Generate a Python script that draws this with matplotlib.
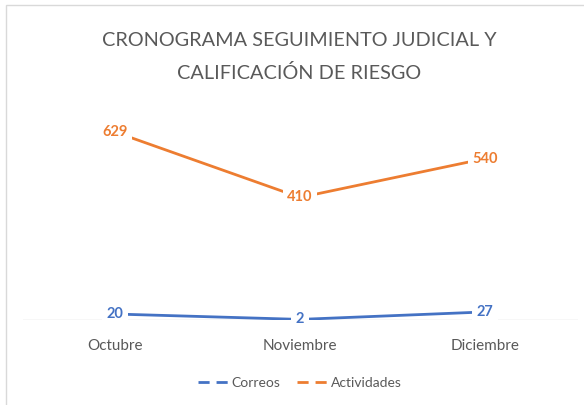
import matplotlib
matplotlib.use("Agg")
import matplotlib.pyplot as plt
from matplotlib.lines import Line2D
from matplotlib.patches import Rectangle

plt.rcParams["font.family"] = ["Lato", "DejaVu Sans"]

meses = ["Octubre", "Noviembre", "Diciembre"]
correos = [20, 2, 27]
actividades = [629, 410, 540]

azul = "#4472C4"
naranja = "#ED7D31"
gris = "#595959"

fig = plt.figure(figsize=(5.84, 4.05), dpi=100)
# marco del grafico
fig.patches.append(Rectangle((6 / 584, -0.1), 1.2, 1 - 5 / 405 + 0.1,
                             transform=fig.transFigure, fill=False,
                             edgecolor="#d9d9d9", linewidth=1))

ax = fig.add_axes([22.5 / 584, 1 - 320 / 405, 555 / 584, 220 / 405])
x = range(len(meses))
ax.plot(x, correos, color=azul, linewidth=2.0, solid_capstyle="round")
ax.plot(x, actividades, color=naranja, linewidth=2.0, solid_capstyle="round")

for serie, col in [(correos, azul), (actividades, naranja)]:
    for i, v in enumerate(serie):
        ax.text(i, v, str(v), color=col, fontsize=10.5, fontweight="bold",
                ha="center", va="center",
                bbox=dict(boxstyle="square,pad=0.3", fc="white", ec="none"))

ax.set_xlim(-0.5, 2.5)
ax.set_ylim(0, 736)
ax.axhline(0, color="#d9d9d9", linewidth=1, zorder=0)
for s in ax.spines.values():
    s.set_visible(False)
ax.set_yticks([])
ax.set_xticks(list(x))
ax.set_xticklabels(meses, color=gris, fontsize=11)
ax.tick_params(axis="x", length=0, pad=14)

fig.text(299 / 584, 1 - 40 / 405, "CRONOGRAMA SEGUIMIENTO JUDICIAL Y",
         ha="center", va="center", fontsize=14.3, color=gris)
fig.text(299 / 584, 1 - 73 / 405, "CALIFICACIÓN DE RIESGO",
         ha="center", va="center", fontsize=14.3, color=gris)

handles = [Line2D([], [], color=azul, linewidth=2, linestyle=(0, (4, 2.5))),
           Line2D([], [], color=naranja, linewidth=2, linestyle=(0, (4, 2.5)))]
fig.legend(handles, ["Correos", "Actividades"], loc="center",
           bbox_to_anchor=(300 / 584, 1 - 383 / 405), ncol=2, frameon=False,
           fontsize=10, labelcolor=gris, handlelength=2.2, handletextpad=0.2,
           columnspacing=1.2)

fig.savefig("out.png", dpi=100)
